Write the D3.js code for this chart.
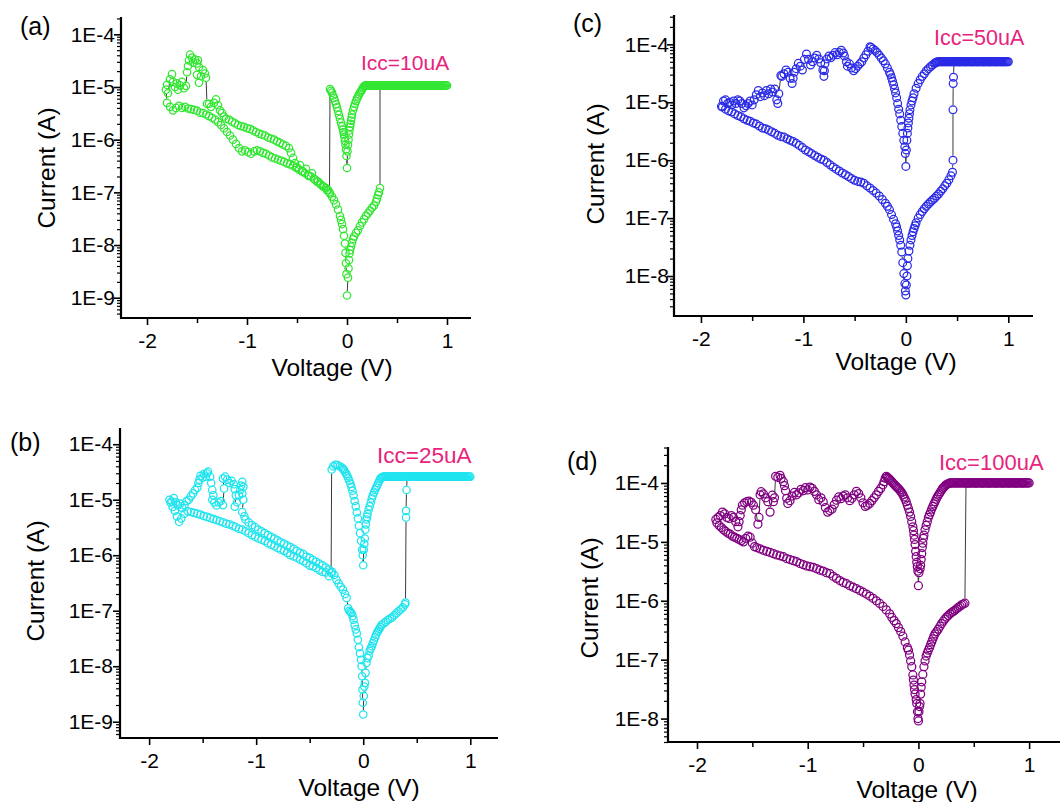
<!DOCTYPE html>
<html><head><meta charset="utf-8">
<script src="https://cdn.jsdelivr.net/npm/d3@7"></script>
<style>body{margin:0;background:#fff}svg{display:block}text{font-family:"Liberation Sans",Arial,sans-serif}</style>
</head><body><svg id="chart" width="1063" height="802"></svg>
<script>
// ---------------- Panel (a) Icc = 10 uA : [voltage V, current A] in sweep order ----------------
const aHrsForward = [[0.00,1.1e-9],[0.01,2.4e-9],[0.015,3.6e-9],[0.02,5.2e-9],[0.025,6.9e-9],[0.03,8.0e-9],[0.04,9.3e-9],[0.05,1.1e-8],[0.06,1.3e-8],[0.07,1.45e-8],[0.09,1.7e-8],[0.11,1.9e-8],[0.13,2.3e-8],[0.15,2.7e-8],[0.17,3.1e-8],[0.19,3.6e-8],[0.21,4.0e-8],[0.23,4.5e-8],[0.25,5.1e-8],[0.27,5.6e-8],[0.29,6.6e-8],[0.30,7.6e-8],[0.31,8.9e-8],[0.32,1.0e-7],[0.33,1.2e-7]];
const aCompliance = [[0.33,1.07e-5],[0.34,1.07e-5],[0.35,1.07e-5],[0.36,1.07e-5],[0.37,1.07e-5],[0.38,1.07e-5],[0.39,1.07e-5],[0.40,1.07e-5],[0.41,1.07e-5],[0.42,1.07e-5],[0.43,1.07e-5],[0.44,1.07e-5],[0.45,1.07e-5],[0.46,1.07e-5],[0.47,1.07e-5],[0.48,1.07e-5],[0.49,1.07e-5],[0.50,1.07e-5],[0.51,1.07e-5],[0.52,1.07e-5],[0.53,1.07e-5],[0.54,1.07e-5],[0.55,1.07e-5],[0.56,1.07e-5],[0.57,1.07e-5],[0.58,1.07e-5],[0.59,1.07e-5],[0.60,1.07e-5],[0.61,1.07e-5],[0.62,1.07e-5],[0.63,1.07e-5],[0.64,1.07e-5],[0.65,1.07e-5],[0.66,1.07e-5],[0.67,1.07e-5],[0.68,1.07e-5],[0.69,1.07e-5],[0.70,1.07e-5],[0.71,1.07e-5],[0.72,1.07e-5],[0.73,1.07e-5],[0.74,1.07e-5],[0.75,1.07e-5],[0.76,1.07e-5],[0.77,1.07e-5],[0.78,1.07e-5],[0.79,1.07e-5],[0.80,1.07e-5],[0.81,1.07e-5],[0.82,1.07e-5],[0.83,1.07e-5],[0.84,1.07e-5],[0.85,1.07e-5],[0.86,1.07e-5],[0.87,1.07e-5],[0.88,1.07e-5],[0.89,1.07e-5],[0.90,1.07e-5],[0.91,1.07e-5],[0.92,1.07e-5],[0.93,1.07e-5],[0.94,1.07e-5],[0.95,1.07e-5],[0.96,1.07e-5],[0.97,1.07e-5],[0.98,1.07e-5],[0.99,1.07e-5],[1.00,1.07e-5],
  [0.94,1.07e-5],[0.88,1.07e-5],[0.82,1.07e-5],[0.76,1.07e-5],[0.70,1.07e-5],[0.64,1.07e-5],[0.58,1.07e-5],[0.52,1.07e-5],[0.46,1.07e-5],[0.40,1.07e-5],[0.34,1.07e-5],[0.33,1.07e-5],[0.32,1.07e-5],[0.31,1.07e-5],[0.30,1.07e-5],[0.29,1.07e-5],[0.28,1.07e-5],[0.27,1.07e-5],[0.26,1.07e-5],[0.25,1.07e-5],[0.24,1.07e-5],[0.23,1.07e-5],[0.22,1.07e-5],[0.21,1.07e-5],[0.20,1.07e-5],[0.19,1.07e-5],[0.18,1.06e-5],[0.17,1.03e-5]];
const aLrs = [[0.16,9.8e-6],[0.15,8.9e-6],[0.14,8.3e-6],[0.13,7.8e-6],[0.12,7.2e-6],[0.11,6.6e-6],[0.10,6.0e-6],[0.09,5.4e-6],[0.08,4.8e-6],[0.07,4.2e-6],[0.06,3.6e-6],[0.05,3.0e-6],[0.045,2.6e-6],[0.04,2.3e-6],[0.035,2.0e-6],[0.03,1.75e-6],[0.025,1.5e-6],[0.02,1.25e-6],[0.015,1.0e-6],[0.01,7.9e-7],[0.005,6.0e-7],[0.0,2.9e-7],
  [-0.005,4.9e-7],[-0.01,6.5e-7],[-0.015,8.0e-7],[-0.02,9.5e-7],[-0.025,1.1e-6],[-0.03,1.25e-6],[-0.035,1.4e-6],[-0.04,1.55e-6],[-0.05,1.8e-6],[-0.06,2.1e-6],[-0.07,2.5e-6],[-0.08,2.95e-6],[-0.09,3.5e-6],[-0.10,4.1e-6],[-0.11,4.7e-6],[-0.12,5.4e-6],[-0.13,6.2e-6],[-0.14,6.9e-6],[-0.15,7.8e-6],[-0.16,8.5e-6],[-0.17,9.1e-6]];
const aResetSweep = [[-0.175,1.0e-7],[-0.19,1.12e-7],[-0.21,1.2e-7],[-0.24,1.3e-7],[-0.27,1.45e-7],[-0.30,1.6e-7],[-0.33,1.8e-7],[-0.36,2.0e-7],[-0.39,2.1e-7],[-0.42,2.3e-7],[-0.45,2.5e-7],[-0.48,2.7e-7],[-0.51,2.95e-7],[-0.54,3.2e-7],[-0.57,3.4e-7],[-0.60,3.55e-7],[-0.63,3.8e-7],[-0.66,4.0e-7],[-0.69,4.2e-7],[-0.72,4.4e-7],[-0.75,4.6e-7],[-0.78,5.0e-7],[-0.81,5.4e-7],[-0.84,5.6e-7],[-0.87,6.0e-7],[-0.90,6.3e-7],[-0.93,6.0e-7],[-0.96,5.4e-7],[-0.99,5.8e-7],[-1.02,6.3e-7],[-1.05,6.0e-7],[-1.08,6.9e-7],[-1.11,8.3e-7],[-1.14,1.0e-6],[-1.17,1.2e-6],[-1.20,1.4e-6],[-1.23,1.65e-6],[-1.26,1.9e-6],[-1.29,2.15e-6],[-1.32,2.4e-6],[-1.35,2.6e-6],[-1.38,2.8e-6],[-1.41,3.0e-6],[-1.44,3.2e-6],[-1.47,3.25e-6],[-1.50,3.55e-6],[-1.53,3.7e-6],[-1.56,3.8e-6],[-1.59,3.9e-6],[-1.62,4.2e-6],[-1.65,4.0e-6],[-1.68,4.4e-6],[-1.71,4.0e-6],[-1.74,3.6e-6],[-1.77,4.2e-6],[-1.80,5.0e-6]];
const aReturn = [[-1.81,8.9e-6],[-1.80,1.1e-5],[-1.79,7.6e-6],[-1.77,1.4e-5],[-1.75,1.75e-5],[-1.74,1.25e-5],[-1.72,1.0e-5],[-1.70,1.17e-5],[-1.69,8.9e-6],[-1.67,1.07e-5],[-1.65,1.25e-5],[-1.63,9.5e-6],[-1.61,1.05e-5],
  [-1.60,1.9e-5],[-1.59,2.5e-5],[-1.58,3.2e-5],[-1.57,4.1e-5],[-1.55,3.6e-5],[-1.54,2.9e-5],[-1.52,3.3e-5],[-1.50,2.8e-5],[-1.49,3.2e-5],[-1.48,2.4e-5],[-1.50,1.7e-5],[-1.48,1.2e-5],[-1.46,1.6e-5],[-1.44,2.1e-5],[-1.42,1.8e-5],[-1.41,1.5e-5],
  [-1.40,4.8e-6],[-1.38,4.8e-6],[-1.36,4.2e-6],[-1.33,5.0e-6],[-1.31,5.8e-6],[-1.29,4.5e-6],[-1.27,3.6e-6],[-1.25,3.2e-6],[-1.23,2.75e-6],[-1.21,2.5e-6],[-1.18,2.4e-6],[-1.15,2.2e-6],[-1.12,2.05e-6],[-1.09,1.9e-6],[-1.06,1.8e-6],[-1.03,1.75e-6],[-1.00,1.65e-6],[-0.97,1.6e-6],[-0.94,1.5e-6],[-0.91,1.4e-6],[-0.88,1.3e-6],[-0.85,1.25e-6],[-0.82,1.2e-6],[-0.79,1.1e-6],[-0.76,1.05e-6],[-0.73,1.0e-6],[-0.70,9.3e-7],[-0.67,8.7e-7],[-0.64,8.1e-7],[-0.61,7.6e-7],[-0.58,6.9e-7],[-0.56,5.6e-7],[-0.54,4.5e-7],[-0.52,3.6e-7],
  [-0.50,3.0e-7],[-0.47,3.3e-7],[-0.44,2.5e-7],[-0.41,2.8e-7],[-0.38,2.05e-7],[-0.35,2.3e-7],[-0.32,1.75e-7],[-0.29,1.6e-7],[-0.26,1.4e-7],[-0.23,1.26e-7],[-0.20,1.1e-7],[-0.17,9.5e-8],
  [-0.15,8.3e-8],[-0.13,7.1e-8],[-0.11,5.9e-8],[-0.09,4.7e-8],[-0.07,3.55e-8],[-0.06,3.0e-8],[-0.05,2.5e-8],[-0.04,2.0e-8],[-0.03,1.5e-8],[-0.02,1.07e-8],[-0.015,7.1e-9],[-0.01,4.5e-9],[-0.005,2.8e-9]];

// ---------------- Panel (b) Icc = 25 uA ----------------
const bHrsForward = [[0.000,1.35e-9],[0.005,2.9e-9],[0.010,4.3e-9],[0.016,5.0e-9],[0.022,7.6e-9],[0.03,1.15e-8],[0.04,1.4e-8],[0.05,1.55e-8],[0.06,1.9e-8],[0.07,2.1e-8],[0.08,2.3e-8],[0.09,2.6e-8],[0.10,2.9e-8],[0.11,3.3e-8],[0.12,3.7e-8],[0.13,4.1e-8],[0.14,4.4e-8],[0.15,4.7e-8],[0.16,5.1e-8],[0.17,5.5e-8],[0.19,5.9e-8],[0.21,6.3e-8],[0.23,6.8e-8],[0.25,7.2e-8],[0.27,7.6e-8],[0.29,8.3e-8],[0.31,9.0e-8],[0.33,9.8e-8],[0.35,1.05e-7],[0.37,1.15e-7],[0.39,1.3e-7],[0.395,1.4e-7],
  [0.40,4.8e-6],[0.40,6.3e-6],[0.405,1.5e-5]];
const bCompliance = [[0.41,2.6e-5],[0.42,2.6e-5],[0.43,2.6e-5],[0.44,2.6e-5],[0.45,2.6e-5],[0.46,2.6e-5],[0.47,2.6e-5],[0.48,2.6e-5],[0.49,2.6e-5],[0.50,2.6e-5],[0.51,2.6e-5],[0.52,2.6e-5],[0.53,2.6e-5],[0.54,2.6e-5],[0.55,2.6e-5],[0.56,2.6e-5],[0.57,2.6e-5],[0.58,2.6e-5],[0.59,2.6e-5],[0.60,2.6e-5],[0.61,2.6e-5],[0.62,2.6e-5],[0.63,2.6e-5],[0.64,2.6e-5],[0.65,2.6e-5],[0.66,2.6e-5],[0.67,2.6e-5],[0.68,2.6e-5],[0.69,2.6e-5],[0.70,2.6e-5],[0.71,2.6e-5],[0.72,2.6e-5],[0.73,2.6e-5],[0.74,2.6e-5],[0.75,2.6e-5],[0.76,2.6e-5],[0.77,2.6e-5],[0.78,2.6e-5],[0.79,2.6e-5],[0.80,2.6e-5],[0.81,2.6e-5],[0.82,2.6e-5],[0.83,2.6e-5],[0.84,2.6e-5],[0.85,2.6e-5],[0.86,2.6e-5],[0.87,2.6e-5],[0.88,2.6e-5],[0.89,2.6e-5],[0.90,2.6e-5],[0.91,2.6e-5],[0.92,2.6e-5],[0.93,2.6e-5],[0.94,2.6e-5],[0.95,2.6e-5],[0.96,2.6e-5],[0.97,2.6e-5],[0.98,2.6e-5],[0.99,2.6e-5],[1.00,2.6e-5],
  [0.94,2.6e-5],[0.88,2.6e-5],[0.82,2.6e-5],[0.76,2.6e-5],[0.70,2.6e-5],[0.64,2.6e-5],[0.58,2.6e-5],[0.52,2.6e-5],[0.46,2.6e-5],[0.41,2.6e-5],[0.40,2.6e-5],[0.39,2.6e-5],[0.38,2.6e-5],[0.37,2.6e-5],[0.36,2.6e-5],[0.35,2.6e-5],[0.34,2.6e-5],[0.33,2.6e-5],[0.32,2.6e-5],[0.31,2.6e-5],[0.30,2.6e-5],[0.29,2.6e-5],[0.28,2.6e-5],[0.27,2.6e-5],[0.26,2.6e-5],[0.25,2.6e-5],[0.24,2.6e-5],[0.23,2.6e-5],[0.22,2.6e-5],[0.21,2.6e-5],[0.20,2.6e-5],[0.19,2.6e-5],[0.18,2.55e-5],[0.17,2.5e-5]];
const bLrs = [[0.16,2.4e-5],[0.15,2.2e-5],[0.14,2.0e-5],[0.13,1.8e-5],[0.12,1.65e-5],[0.11,1.5e-5],[0.10,1.35e-5],[0.09,1.2e-5],[0.08,1.05e-5],[0.07,8.9e-6],[0.06,7.6e-6],[0.05,6.6e-6],[0.04,5.5e-6],[0.035,4.9e-6],[0.03,4.4e-6],[0.025,3.6e-6],[0.02,2.9e-6],[0.015,2.0e-6],[0.01,1.6e-6],[0.005,1.26e-6],[0.0,6.6e-7],
  [-0.005,1.0e-6],[-0.01,1.26e-6],[-0.02,1.8e-6],[-0.03,2.5e-6],[-0.04,3.4e-6],[-0.05,4.6e-6],[-0.06,5.9e-6],[-0.07,7.6e-6],[-0.08,9.5e-6],[-0.09,1.2e-5],[-0.10,1.45e-5],[-0.11,1.7e-5],[-0.12,1.95e-5],[-0.13,2.2e-5],[-0.14,2.45e-5],[-0.15,2.7e-5],[-0.16,2.95e-5],[-0.17,3.2e-5],[-0.18,3.45e-5],[-0.19,3.6e-5],[-0.20,3.8e-5],[-0.22,4.0e-5],[-0.24,4.2e-5],[-0.26,4.25e-5],[-0.28,4.0e-5],[-0.295,3.5e-5]];
const bResetSweep = [[-0.30,4.8e-7],[-0.32,4.2e-7],[-0.35,4.9e-7],[-0.38,5.0e-7],[-0.41,5.4e-7],[-0.44,5.9e-7],[-0.47,6.3e-7],[-0.50,6.5e-7],[-0.53,7.2e-7],[-0.56,7.8e-7],[-0.59,8.3e-7],[-0.62,9.0e-7],[-0.65,9.5e-7],[-0.68,1.0e-6],[-0.71,1.1e-6],[-0.74,1.2e-6],[-0.77,1.26e-6],[-0.80,1.35e-6],[-0.83,1.45e-6],[-0.86,1.55e-6],[-0.89,1.65e-6],[-0.92,1.8e-6],[-0.95,1.9e-6],[-0.98,2.0e-6],[-1.01,2.15e-6],[-1.04,2.3e-6],[-1.07,2.5e-6],[-1.10,2.7e-6],[-1.13,2.9e-6],[-1.16,3.0e-6],[-1.19,3.2e-6],[-1.22,3.4e-6],[-1.25,3.6e-6],[-1.28,3.7e-6],[-1.31,3.9e-6],[-1.34,4.1e-6],[-1.37,4.3e-6],[-1.40,4.5e-6],[-1.43,4.7e-6],[-1.46,4.9e-6],[-1.49,5.1e-6],[-1.52,5.4e-6],[-1.55,5.6e-6],[-1.58,5.8e-6],[-1.61,6.0e-6],[-1.64,6.2e-6],[-1.67,5.6e-6],[-1.70,4.6e-6],[-1.72,4.0e-6],[-1.74,5.0e-6],[-1.76,6.3e-6],[-1.78,7.4e-6],[-1.80,8.9e-6]];
const bReturn = [[-1.81,1.0e-5],[-1.79,9.3e-6],[-1.77,1.07e-5],[-1.75,9.0e-6],[-1.73,7.9e-6],[-1.71,8.5e-6],[-1.69,7.1e-6],[-1.67,8.0e-6],[-1.65,9.5e-6],[-1.63,1.0e-5],[-1.61,1.15e-5],[-1.59,1.3e-5],[-1.57,1.5e-5],[-1.55,1.65e-5],[-1.54,2.0e-5],[-1.53,2.3e-5],[-1.52,2.7e-5],[-1.50,2.5e-5],[-1.49,2.9e-5],[-1.47,2.6e-5],[-1.46,3.0e-5],[-1.45,3.2e-5],[-1.43,2.6e-5],[-1.42,2.0e-5],[-1.41,1.5e-5],[-1.40,1.2e-5],[-1.41,1.0e-5],[-1.39,8.9e-6],[-1.37,7.9e-6],[-1.35,8.9e-6],[-1.33,9.5e-6],[-1.31,8.0e-6],
  [-1.30,1.6e-5],[-1.31,2.4e-5],[-1.29,2.6e-5],[-1.27,2.3e-5],[-1.25,2.0e-5],[-1.23,2.2e-5],[-1.21,1.9e-5],[-1.20,1.55e-5],[-1.19,1.2e-5],[-1.20,7.5e-6],[-1.18,9.0e-6],[-1.16,1.2e-5],[-1.15,1.5e-5],[-1.14,1.8e-5],[-1.13,2.1e-5],[-1.12,1.7e-5],[-1.13,1.3e-5],[-1.12,1.0e-5],[-1.13,6.0e-6],[-1.11,5.0e-6],
  [-1.10,4.4e-6],[-1.07,3.9e-6],[-1.04,3.5e-6],[-1.01,3.2e-6],[-0.98,2.9e-6],[-0.95,2.7e-6],[-0.92,2.5e-6],[-0.89,2.3e-6],[-0.86,2.15e-6],[-0.83,2.0e-6],[-0.80,1.85e-6],[-0.77,1.7e-6],[-0.74,1.6e-6],[-0.71,1.5e-6],[-0.68,1.4e-6],[-0.65,1.3e-6],[-0.62,1.2e-6],[-0.59,1.1e-6],[-0.56,1.05e-6],[-0.53,9.5e-7],[-0.50,9.0e-7],[-0.47,8.3e-7],[-0.44,7.6e-7],[-0.41,7.1e-7],[-0.38,6.6e-7],[-0.35,6.0e-7],[-0.32,5.5e-7],[-0.29,5.0e-7],[-0.27,4.4e-7],[-0.25,3.6e-7],[-0.23,3.1e-7],[-0.21,2.7e-7],[-0.19,2.4e-7],[-0.17,2.0e-7],[-0.155,1.7e-7],
  [-0.14,1.1e-7],[-0.13,1.0e-7],[-0.12,9.5e-8],[-0.11,9.1e-8],[-0.10,8.0e-8],[-0.09,6.9e-8],[-0.08,5.5e-8],[-0.07,4.6e-8],[-0.06,3.9e-8],[-0.05,3.0e-8],[-0.04,2.2e-8],[-0.03,1.7e-8],[-0.02,1.3e-8],[-0.015,1.0e-8],[-0.01,6.6e-9],[-0.007,3.8e-9],[-0.004,2.2e-9]];

// ---------------- Panel (c) Icc = 50 uA ----------------
const cHrsForward = [[0.000,4.7e-9],[0.005,7.0e-9],[0.010,1.0e-8],[0.015,1.5e-8],[0.02,2.0e-8],[0.03,2.7e-8],[0.04,3.4e-8],[0.05,4.2e-8],[0.06,5.0e-8],[0.07,5.8e-8],[0.08,6.6e-8],[0.09,7.4e-8],[0.10,8.3e-8],[0.12,1.0e-7],[0.14,1.15e-7],[0.16,1.3e-7],[0.18,1.45e-7],[0.20,1.6e-7],[0.22,1.75e-7],[0.24,1.9e-7],[0.26,2.05e-7],[0.28,2.2e-7],[0.30,2.4e-7],[0.32,2.6e-7],[0.34,2.9e-7],[0.36,3.2e-7],[0.38,3.6e-7],[0.40,4.0e-7],[0.42,4.6e-7],[0.44,5.4e-7],[0.455,6.2e-7],
  [0.46,1.0e-6],[0.46,7.4e-6],[0.462,2.1e-5],[0.465,2.7e-5]];
const cCompliance = [[0.47,5.0e-5],[0.48,5.0e-5],[0.49,5.0e-5],[0.50,5.0e-5],[0.51,5.0e-5],[0.52,5.0e-5],[0.53,5.0e-5],[0.54,5.0e-5],[0.55,5.0e-5],[0.56,5.0e-5],[0.57,5.0e-5],[0.58,5.0e-5],[0.59,5.0e-5],[0.60,5.0e-5],[0.61,5.0e-5],[0.62,5.0e-5],[0.63,5.0e-5],[0.64,5.0e-5],[0.65,5.0e-5],[0.66,5.0e-5],[0.67,5.0e-5],[0.68,5.0e-5],[0.69,5.0e-5],[0.70,5.0e-5],[0.71,5.0e-5],[0.72,5.0e-5],[0.73,5.0e-5],[0.74,5.0e-5],[0.75,5.0e-5],[0.76,5.0e-5],[0.77,5.0e-5],[0.78,5.0e-5],[0.79,5.0e-5],[0.80,5.0e-5],[0.81,5.0e-5],[0.82,5.0e-5],[0.83,5.0e-5],[0.84,5.0e-5],[0.85,5.0e-5],[0.86,5.0e-5],[0.87,5.0e-5],[0.88,5.0e-5],[0.89,5.0e-5],[0.90,5.0e-5],[0.91,5.0e-5],[0.92,5.0e-5],[0.93,5.0e-5],[0.94,5.0e-5],[0.95,5.0e-5],[0.96,5.0e-5],[0.97,5.0e-5],[0.98,5.0e-5],[0.99,5.0e-5],[1.00,5.0e-5],
  [0.94,5.0e-5],[0.88,5.0e-5],[0.82,5.0e-5],[0.76,5.0e-5],[0.70,5.0e-5],[0.64,5.0e-5],[0.58,5.0e-5],[0.52,5.0e-5],[0.47,5.0e-5],[0.46,5.0e-5],[0.45,5.0e-5],[0.44,5.0e-5],[0.43,5.0e-5],[0.42,5.0e-5],[0.41,5.0e-5],[0.40,5.0e-5],[0.39,5.0e-5],[0.38,5.0e-5],[0.37,5.0e-5],[0.36,5.0e-5],[0.35,5.0e-5],[0.34,5.0e-5],[0.33,5.0e-5],[0.32,5.0e-5],[0.31,5.0e-5],[0.30,4.9e-5],[0.29,4.8e-5]];
const cLrs = [[0.28,4.7e-5],[0.26,4.4e-5],[0.24,4.1e-5],[0.22,3.8e-5],[0.20,3.5e-5],[0.18,3.1e-5],[0.16,2.8e-5],[0.14,2.45e-5],[0.12,2.1e-5],[0.10,1.75e-5],[0.08,1.4e-5],[0.07,1.2e-5],[0.06,1.05e-5],[0.05,9.0e-6],[0.04,7.4e-6],[0.035,6.3e-6],[0.03,5.3e-6],[0.025,4.4e-6],[0.02,3.6e-6],[0.015,2.9e-6],[0.01,2.2e-6],[0.005,1.5e-6],[0.0,7.8e-7],
  [-0.005,1.3e-6],[-0.01,1.7e-6],[-0.02,2.2e-6],[-0.03,2.9e-6],[-0.04,3.8e-6],[-0.05,4.9e-6],[-0.06,6.3e-6],[-0.07,7.6e-6],[-0.08,9.5e-6],[-0.09,1.2e-5],[-0.10,1.45e-5],[-0.11,1.7e-5],[-0.12,2.0e-5],[-0.13,2.3e-5],[-0.14,2.65e-5],[-0.15,3.0e-5],[-0.16,3.3e-5],[-0.18,3.9e-5],[-0.20,4.6e-5],[-0.22,5.2e-5],[-0.24,5.8e-5],[-0.26,6.5e-5],[-0.28,7.2e-5],[-0.30,7.8e-5],[-0.32,8.3e-5],[-0.34,8.8e-5],[-0.35,9.1e-5]];
const cResetSweep = [[-0.37,7.6e-5],[-0.39,6.6e-5],[-0.41,5.8e-5],[-0.43,5.0e-5],[-0.45,4.6e-5],[-0.47,4.2e-5],[-0.49,3.8e-5],[-0.51,3.5e-5],[-0.53,3.9e-5],[-0.55,4.6e-5],[-0.57,4.2e-5],[-0.58,5.0e-5],[-0.60,6.3e-5],[-0.61,7.1e-5],[-0.63,7.9e-5],[-0.65,7.2e-5],[-0.67,6.6e-5],[-0.69,7.2e-5],[-0.71,6.5e-5],[-0.73,5.9e-5],[-0.75,6.3e-5],[-0.77,5.6e-5],[-0.79,4.6e-5],[-0.795,3.5e-5],[-0.80,2.8e-5],[-0.81,3.6e-5],[-0.83,4.8e-5],[-0.85,5.6e-5],[-0.87,6.5e-5],[-0.89,5.8e-5],[-0.91,5.0e-5],[-0.93,4.4e-5],[-0.95,5.5e-5],[-0.97,6.8e-5],[-0.99,5.5e-5],[-1.01,3.6e-5],[-1.03,4.2e-5],[-1.05,4.7e-5],[-1.07,3.8e-5],[-1.09,3.3e-5],[-1.10,2.6e-5],[-1.11,2.1e-5],[-1.13,2.6e-5],[-1.15,3.3e-5],[-1.17,3.6e-5],[-1.19,3.1e-5],[-1.21,2.8e-5],[-1.22,2.9e-5],[-1.24,1.4e-5],[-1.25,9.5e-6],[-1.26,1.1e-5],[-1.28,1.7e-5],[-1.30,1.5e-5],[-1.32,1.7e-5],[-1.34,1.4e-5],[-1.36,1.6e-5],[-1.38,1.3e-5],[-1.40,1.45e-5],[-1.42,1.25e-5],[-1.44,1.6e-5],[-1.46,1.35e-5],[-1.48,1.1e-5],[-1.50,9.0e-6],[-1.52,1.05e-5],[-1.54,9.5e-6],[-1.56,8.7e-6],[-1.58,8.0e-6],[-1.60,9.5e-6],[-1.62,1.05e-5],[-1.64,1.1e-5],[-1.66,9.5e-6],[-1.68,1.05e-5],[-1.70,9.0e-6],[-1.72,1.0e-5],[-1.74,9.5e-6],[-1.76,1.1e-5],[-1.78,1.05e-5],[-1.80,8.5e-6]];
const cReturn = [[-1.79,8.3e-6],[-1.76,7.6e-6],[-1.73,7.1e-6],[-1.70,6.8e-6],[-1.67,6.3e-6],[-1.64,5.9e-6],[-1.61,5.6e-6],[-1.58,5.2e-6],[-1.55,4.9e-6],[-1.52,4.7e-6],[-1.49,4.4e-6],[-1.46,4.2e-6],[-1.43,3.9e-6],[-1.40,3.6e-6],[-1.37,3.5e-6],[-1.34,3.3e-6],[-1.31,3.1e-6],[-1.28,2.9e-6],[-1.25,2.7e-6],[-1.22,2.55e-6],[-1.19,2.5e-6],[-1.16,2.35e-6],[-1.13,2.2e-6],[-1.10,2.1e-6],[-1.07,1.95e-6],[-1.04,1.8e-6],[-1.01,1.65e-6],[-0.98,1.5e-6],[-0.95,1.4e-6],[-0.92,1.3e-6],[-0.89,1.2e-6],[-0.86,1.12e-6],[-0.83,1.05e-6],[-0.80,1.0e-6],[-0.77,9.1e-7],[-0.74,8.3e-7],[-0.71,7.6e-7],[-0.68,7.0e-7],[-0.65,6.5e-7],[-0.62,6.0e-7],[-0.59,5.6e-7],[-0.56,5.2e-7],[-0.53,4.8e-7],[-0.50,4.5e-7],[-0.47,4.3e-7],[-0.44,4.2e-7],[-0.41,4.0e-7],[-0.38,3.6e-7],[-0.35,3.3e-7],[-0.32,3.0e-7],[-0.29,2.7e-7],[-0.26,2.4e-7],[-0.23,2.1e-7],[-0.20,1.8e-7],[-0.18,1.6e-7],[-0.16,1.4e-7],[-0.14,1.15e-7],[-0.12,9.5e-8],[-0.10,8.0e-8],[-0.09,7.0e-8],[-0.08,6.0e-8],[-0.07,5.0e-8],[-0.06,4.2e-8],[-0.05,3.4e-8],[-0.04,2.6e-8],[-0.03,1.7e-8],[-0.02,1.1e-8],[-0.01,7.4e-9],[-0.005,5.5e-9]];

// ---------------- Panel (d) Icc = 100 uA ----------------
const dHrsForward = [[0.000,9.1e-9],[0.005,1.3e-8],[0.010,1.6e-8],[0.015,1.8e-8],[0.02,2.6e-8],[0.025,3.4e-8],[0.03,4.2e-8],[0.04,5.6e-8],[0.05,7.6e-8],[0.06,9.5e-8],[0.07,1.15e-7],[0.08,1.3e-7],[0.09,1.45e-7],[0.10,1.6e-7],[0.11,1.8e-7],[0.12,2.0e-7],[0.13,2.25e-7],[0.14,2.5e-7],[0.15,2.75e-7],[0.165,3.0e-7],[0.18,3.3e-7],[0.195,3.7e-7],[0.21,4.1e-7],[0.225,4.5e-7],[0.24,4.9e-7],[0.255,5.3e-7],[0.27,5.6e-7],[0.285,6.0e-7],[0.30,6.3e-7],[0.315,6.6e-7],[0.33,6.9e-7],[0.345,7.3e-7],[0.36,7.7e-7],[0.376,8.1e-7],[0.39,8.5e-7],[0.405,8.8e-7],[0.42,9.1e-7]];
const dCompliance = [[0.43,1.0e-4],[0.44,1.0e-4],[0.45,1.0e-4],[0.46,1.0e-4],[0.47,1.0e-4],[0.48,1.0e-4],[0.49,1.0e-4],[0.50,1.0e-4],[0.51,1.0e-4],[0.52,1.0e-4],[0.53,1.0e-4],[0.54,1.0e-4],[0.55,1.0e-4],[0.56,1.0e-4],[0.57,1.0e-4],[0.58,1.0e-4],[0.59,1.0e-4],[0.60,1.0e-4],[0.61,1.0e-4],[0.62,1.0e-4],[0.63,1.0e-4],[0.64,1.0e-4],[0.65,1.0e-4],[0.66,1.0e-4],[0.67,1.0e-4],[0.68,1.0e-4],[0.69,1.0e-4],[0.70,1.0e-4],[0.71,1.0e-4],[0.72,1.0e-4],[0.73,1.0e-4],[0.74,1.0e-4],[0.75,1.0e-4],[0.76,1.0e-4],[0.77,1.0e-4],[0.78,1.0e-4],[0.79,1.0e-4],[0.80,1.0e-4],[0.81,1.0e-4],[0.82,1.0e-4],[0.83,1.0e-4],[0.84,1.0e-4],[0.85,1.0e-4],[0.86,1.0e-4],[0.87,1.0e-4],[0.88,1.0e-4],[0.89,1.0e-4],[0.90,1.0e-4],[0.91,1.0e-4],[0.92,1.0e-4],[0.93,1.0e-4],[0.94,1.0e-4],[0.95,1.0e-4],[0.96,1.0e-4],[0.97,1.0e-4],[0.98,1.0e-4],[0.99,1.0e-4],[1.00,1.0e-4],
  [0.94,1.0e-4],[0.88,1.0e-4],[0.82,1.0e-4],[0.76,1.0e-4],[0.70,1.0e-4],[0.64,1.0e-4],[0.58,1.0e-4],[0.52,1.0e-4],[0.46,1.0e-4],[0.43,1.0e-4],[0.42,1.0e-4],[0.41,1.0e-4],[0.40,1.0e-4],[0.39,1.0e-4],[0.38,1.0e-4],[0.37,1.0e-4],[0.36,1.0e-4],[0.35,1.0e-4],[0.34,1.0e-4],[0.33,1.0e-4],[0.32,1.0e-4],[0.31,1.0e-4],[0.30,1.0e-4],[0.29,1.0e-4],[0.28,9.9e-5],[0.27,9.7e-5],[0.26,9.5e-5]];
const dLrs = [[0.25,9.3e-5],[0.24,8.9e-5],[0.23,8.5e-5],[0.22,8.1e-5],[0.21,7.6e-5],[0.20,7.1e-5],[0.19,6.6e-5],[0.18,6.2e-5],[0.17,5.8e-5],[0.16,5.3e-5],[0.15,4.8e-5],[0.14,4.4e-5],[0.13,4.0e-5],[0.12,3.6e-5],[0.11,3.2e-5],[0.10,2.9e-5],[0.09,2.6e-5],[0.08,2.2e-5],[0.07,1.9e-5],[0.06,1.6e-5],[0.05,1.3e-5],[0.045,1.15e-5],[0.04,9.5e-6],[0.035,8.0e-6],[0.03,6.3e-6],[0.025,5.0e-6],[0.02,4.0e-6],[0.015,3.5e-6],[0.005,3.0e-6],[0.0,1.8e-6],
  [-0.005,3.2e-6],[-0.01,3.8e-6],[-0.015,4.5e-6],[-0.02,5.6e-6],[-0.025,6.9e-6],[-0.03,9.0e-6],[-0.035,1.1e-5],[-0.04,1.3e-5],[-0.045,1.55e-5],[-0.05,1.8e-5],[-0.06,2.2e-5],[-0.07,2.7e-5],[-0.08,3.2e-5],[-0.09,3.7e-5],[-0.10,4.2e-5],[-0.11,4.8e-5],[-0.12,5.3e-5],[-0.13,5.8e-5],[-0.14,6.3e-5],[-0.15,6.8e-5],[-0.16,7.2e-5],[-0.17,7.6e-5],[-0.18,8.0e-5],[-0.19,8.3e-5],[-0.20,8.7e-5],[-0.21,9.1e-5],[-0.22,9.5e-5],[-0.23,1.0e-4],[-0.24,1.05e-4],[-0.25,1.1e-4],[-0.26,1.15e-4],[-0.27,1.2e-4],[-0.28,1.25e-4],[-0.29,1.3e-4]];
const dResetSweep = [[-0.30,1.2e-4],[-0.31,1.05e-4],[-0.32,9.3e-5],[-0.34,8.1e-5],[-0.36,7.2e-5],[-0.38,6.3e-5],[-0.40,5.6e-5],[-0.42,5.0e-5],[-0.44,4.5e-5],[-0.46,4.2e-5],[-0.48,4.0e-5],[-0.50,4.6e-5],[-0.52,5.6e-5],[-0.54,6.6e-5],[-0.56,7.2e-5],[-0.58,6.3e-5],[-0.60,5.5e-5],[-0.62,5.0e-5],[-0.64,5.6e-5],[-0.66,6.3e-5],[-0.68,6.0e-5],[-0.70,5.4e-5],[-0.72,5.8e-5],[-0.74,5.1e-5],[-0.76,4.3e-5],[-0.78,3.6e-5],[-0.80,3.4e-5],[-0.82,3.2e-5],[-0.84,3.8e-5],[-0.86,4.8e-5],[-0.88,5.6e-5],[-0.90,5.2e-5],[-0.92,6.3e-5],[-0.94,7.2e-5],[-0.96,8.1e-5],[-0.98,8.5e-5],[-1.00,7.6e-5],[-1.02,8.3e-5],[-1.04,7.4e-5],[-1.06,7.8e-5],[-1.08,6.8e-5],[-1.10,6.3e-5],[-1.12,6.9e-5],[-1.14,6.0e-5],[-1.16,5.0e-5],[-1.18,4.5e-5],[-1.19,5.5e-5],[-1.20,7.4e-5],[-1.21,9.0e-5],[-1.22,1.05e-4],[-1.24,1.2e-4],[-1.25,1.35e-4],[-1.27,1.25e-4],[-1.29,1.3e-4],
  [-1.30,5.6e-5],[-1.31,4.8e-5],[-1.32,6.2e-5],[-1.34,3.2e-5],[-1.36,4.8e-5],[-1.38,5.6e-5],[-1.40,6.5e-5],[-1.42,7.1e-5],[-1.43,6.3e-5],
  [-1.44,2.6e-5],[-1.45,2.0e-5],[-1.47,3.5e-5],[-1.49,4.2e-5],[-1.51,4.7e-5],[-1.53,4.9e-5],[-1.55,4.8e-5],[-1.57,4.6e-5],[-1.59,4.2e-5],[-1.60,3.5e-5],[-1.61,2.8e-5],[-1.62,2.2e-5],[-1.63,1.8e-5],[-1.65,2.2e-5],[-1.67,2.6e-5],[-1.69,2.8e-5],[-1.71,2.5e-5],[-1.73,2.6e-5],[-1.75,3.0e-5],[-1.77,3.2e-5],[-1.79,2.8e-5],[-1.81,2.6e-5],[-1.83,2.4e-5]];
const dReturn = [[-1.82,2.1e-5],[-1.80,1.9e-5],[-1.78,1.75e-5],[-1.76,1.6e-5],[-1.74,1.5e-5],[-1.72,1.4e-5],[-1.70,1.35e-5],[-1.68,1.25e-5],[-1.66,1.2e-5],[-1.64,1.15e-5],[-1.62,1.1e-5],[-1.60,1.05e-5],[-1.58,1.0e-5],[-1.56,1.15e-5],[-1.54,1.25e-5],[-1.52,1.2e-5],[-1.50,9.5e-6],[-1.48,8.3e-6],[-1.46,8.0e-6],[-1.43,7.6e-6],[-1.40,7.2e-6],[-1.37,6.9e-6],[-1.34,6.6e-6],[-1.31,6.3e-6],[-1.28,6.0e-6],[-1.25,5.8e-6],[-1.22,5.6e-6],[-1.19,5.2e-6],[-1.16,5.0e-6],[-1.13,4.8e-6],[-1.10,4.6e-6],[-1.07,4.3e-6],[-1.04,4.1e-6],[-1.01,3.9e-6],[-0.98,3.8e-6],[-0.95,3.7e-6],[-0.92,3.5e-6],[-0.89,3.3e-6],[-0.86,3.2e-6],[-0.83,3.0e-6],[-0.80,2.9e-6],[-0.77,2.6e-6],[-0.74,2.4e-6],[-0.71,2.2e-6],[-0.68,2.05e-6],[-0.65,1.95e-6],[-0.62,1.8e-6],[-0.59,1.7e-6],[-0.56,1.6e-6],[-0.53,1.5e-6],[-0.50,1.4e-6],[-0.47,1.3e-6],[-0.44,1.2e-6],[-0.41,1.1e-6],[-0.38,1.0e-6],[-0.35,9.0e-7],[-0.32,8.0e-7],[-0.29,7.0e-7],[-0.26,6.0e-7],[-0.24,5.2e-7],[-0.22,4.6e-7],[-0.20,4.1e-7],[-0.18,3.5e-7],[-0.16,3.0e-7],[-0.14,2.5e-7],[-0.12,2.0e-7],[-0.10,1.6e-7],[-0.09,1.45e-7],[-0.08,1.2e-7],[-0.07,9.5e-8],[-0.06,7.6e-8],[-0.05,5.5e-8],[-0.045,4.5e-8],[-0.04,3.7e-8],[-0.035,3.1e-8],[-0.03,2.6e-8],[-0.02,2.1e-8],[-0.015,1.8e-8],[-0.008,1.3e-8],[-0.004,1.0e-8]];

// ---------------- Axis ticks and labels ----------------
const xTickValues = [-2, -1, 0, 1];
const xTickLabels = ["-2", "-1", "0", "1"];
const xMinorValues = [-1.5, -0.5, 0.5];
const yTickValuesAB = [1e-9, 1e-8, 1e-7, 1e-6, 1e-5, 1e-4];
const yTickLabelsAB = ["1E-9", "1E-8", "1E-7", "1E-6", "1E-5", "1E-4"];
const yTickValuesCD = [1e-8, 1e-7, 1e-6, 1e-5, 1e-4];
const yTickLabelsCD = ["1E-8", "1E-7", "1E-6", "1E-5", "1E-4"];
const panelTags = ["(a)", "(b)", "(c)", "(d)"];
const iccLabels = ["Icc=10uA", "Icc=25uA", "Icc=50uA", "Icc=100uA"];
const xTitle = "Voltage (V)";
const yTitle = "Current (A)";

// ---------------- Layout (positions / styles) ----------------
const panels = [
  {data:[aHrsForward,aCompliance,aLrs,aResetSweep,aReturn].flat(), color:"#33e633", r:3.7,
   left:121, right:471, top:17, bottom:318, xDom:[-2.26,1.24], yDom:[4.12e-10,2.13e-4],
   yTicks:yTickValuesAB, yLabels:yTickLabelsAB, yGap:6, tag:panelTags[0], tagPos:[20,35],
   icc:iccLabels[0], iccPos:[361,70], iccSize:21, yTitlePos:[46,168], xTitlePos:[332,376]},
  {data:[bHrsForward,bCompliance,bLrs,bResetSweep,bReturn].flat(), color:"#1ee4ee", r:3.7,
   left:120, right:498, top:428, bottom:738, xDom:[-2.272,1.259], yDom:[5.09e-10,1.96e-4],
   yTicks:yTickValuesAB, yLabels:yTickLabelsAB, yGap:7, tag:panelTags[1], tagPos:[10,451],
   icc:iccLabels[1], iccPos:[377,463], iccSize:22.5, yTitlePos:[35,581], xTitlePos:[359,796]},
  {data:[cHrsForward,cCompliance,cLrs,cResetSweep,cReturn].flat(), color:"#2a2ae6", r:3.9,
   left:674, right:1033, top:15, bottom:316, xDom:[-2.263,1.241], yDom:[2.04e-9,3.21e-4],
   yTicks:yTickValuesCD, yLabels:yTickLabelsCD, yGap:5, tag:panelTags[2], tagPos:[573,32],
   icc:iccLabels[2], iccPos:[934,45], iccSize:21.5, yTitlePos:[595,164], xTitlePos:[896,370]},
  {data:[dHrsForward,dCompliance,dLrs,dResetSweep,dReturn].flat(), color:"#800080", r:4.0,
   left:668, right:1060, top:447, bottom:742, xDom:[-2.262,1.279], yDom:[4.0e-9,4.08e-4],
   yTicks:yTickValuesCD, yLabels:yTickLabelsCD, yGap:9, tag:panelTags[3], tagPos:[567,470],
   icc:iccLabels[3], iccPos:[939,470], iccSize:22, yTitlePos:[589,598], xTitlePos:[917,798]}
];

const svg = d3.select("#chart");
svg.append("rect").attr("width",1063).attr("height",802).attr("fill","#fff");

panels.forEach(p => {
  const g = svg.append("g");
  const x = d3.scaleLinear().domain(p.xDom).range([p.left, p.right]);
  const y = d3.scaleLog().domain(p.yDom).range([p.bottom, p.top]);

  // connecting line between successive points, gapped at the symbols (Origin style)
  const pts = p.data.map(d => [x(d[0]), y(d[1])]);
  const gap = p.r + 0.6;
  const segs = [];
  for (let i = 1; i < pts.length; i++) {
    const [x0,y0] = pts[i-1], [x1,y1] = pts[i];
    const dx = x1-x0, dy = y1-y0, L = Math.hypot(dx,dy);
    if (L > 2*gap + 0.5) {
      const ux = dx/L, uy = dy/L;
      segs.push([x0+ux*gap, y0+uy*gap, x1-ux*gap, y1-uy*gap]);
    }
  }
  g.append("g").selectAll("line").data(segs).join("line")
    .attr("x1",s=>s[0]).attr("y1",s=>s[1]).attr("x2",s=>s[2]).attr("y2",s=>s[3])
    .attr("stroke","#3a3a3a").attr("stroke-width",1);

  g.append("g").selectAll("circle").data(p.data).join("circle")
    .attr("cx",d=>x(d[0])).attr("cy",d=>y(d[1])).attr("r",p.r)
    .attr("fill","none").attr("stroke",p.color).attr("stroke-width",1.25);

  // minor log ticks
  const [lo,hi] = p.yDom, minor = [];
  for (let e = Math.floor(Math.log10(lo)); e <= Math.ceil(Math.log10(hi)); e++)
    for (let k = 2; k <= 9; k++) { const v = k*Math.pow(10,e); if (v >= lo && v <= hi) minor.push(v); }

  const yMinorAxis = g.append("g").attr("transform",`translate(${p.left},0)`)
    .call(d3.axisLeft(y).tickValues(minor).tickFormat("").tickSize(4).tickSizeOuter(0));
  yMinorAxis.select(".domain").remove();
  yMinorAxis.selectAll("line").attr("stroke-width",1.2);

  const yAxis = g.append("g").attr("transform",`translate(${p.left},0)`)
    .call(d3.axisLeft(y).tickValues(p.yTicks).tickFormat((d,i)=>p.yLabels[i]).tickSize(7).tickPadding(p.yGap-7).tickSizeOuter(0));
  yAxis.select(".domain").remove();
  yAxis.selectAll("line").attr("stroke-width",1.6);
  yAxis.selectAll("text").attr("font-size",21).attr("fill","#000").attr("font-family",'"Liberation Sans",Arial,sans-serif');

  const xMinorAxis = g.append("g").attr("transform",`translate(0,${p.bottom})`)
    .call(d3.axisBottom(x).tickValues(xMinorValues).tickFormat("").tickSize(5).tickSizeOuter(0));
  xMinorAxis.select(".domain").remove();
  xMinorAxis.selectAll("line").attr("stroke-width",1.5);

  const xAxis = g.append("g").attr("transform",`translate(0,${p.bottom})`)
    .call(d3.axisBottom(x).tickValues(xTickValues).tickFormat((d,i)=>xTickLabels[i]).tickSize(7).tickPadding(8).tickSizeOuter(0));
  xAxis.select(".domain").remove();
  xAxis.selectAll("line").attr("stroke-width",1.6);
  xAxis.selectAll("text").attr("font-size",21).attr("fill","#000").attr("font-family",'"Liberation Sans",Arial,sans-serif');

  // axis lines
  g.append("line").attr("x1",p.left).attr("x2",p.left).attr("y1",p.top).attr("y2",p.bottom+1)
    .attr("stroke","#000").attr("stroke-width",2.2);
  g.append("line").attr("x1",p.left-1).attr("x2",p.right).attr("y1",p.bottom).attr("y2",p.bottom)
    .attr("stroke","#000").attr("stroke-width",2.2);

  // texts
  g.append("text").attr("x",p.tagPos[0]).attr("y",p.tagPos[1]).attr("font-size",25).text(p.tag);
  g.append("text").attr("x",p.iccPos[0]).attr("y",p.iccPos[1]).attr("font-size",p.iccSize)
    .attr("fill","#e8237c").text(p.icc);
  g.append("text").attr("transform",`translate(${p.yTitlePos[0]},${p.yTitlePos[1]}) rotate(-90)`)
    .attr("text-anchor","middle").attr("dominant-baseline","central").attr("font-size",24.5).text(yTitle);
  g.append("text").attr("x",p.xTitlePos[0]).attr("y",p.xTitlePos[1]).attr("text-anchor","middle")
    .attr("font-size",24.5).text(xTitle);
});
</script></body></html>
